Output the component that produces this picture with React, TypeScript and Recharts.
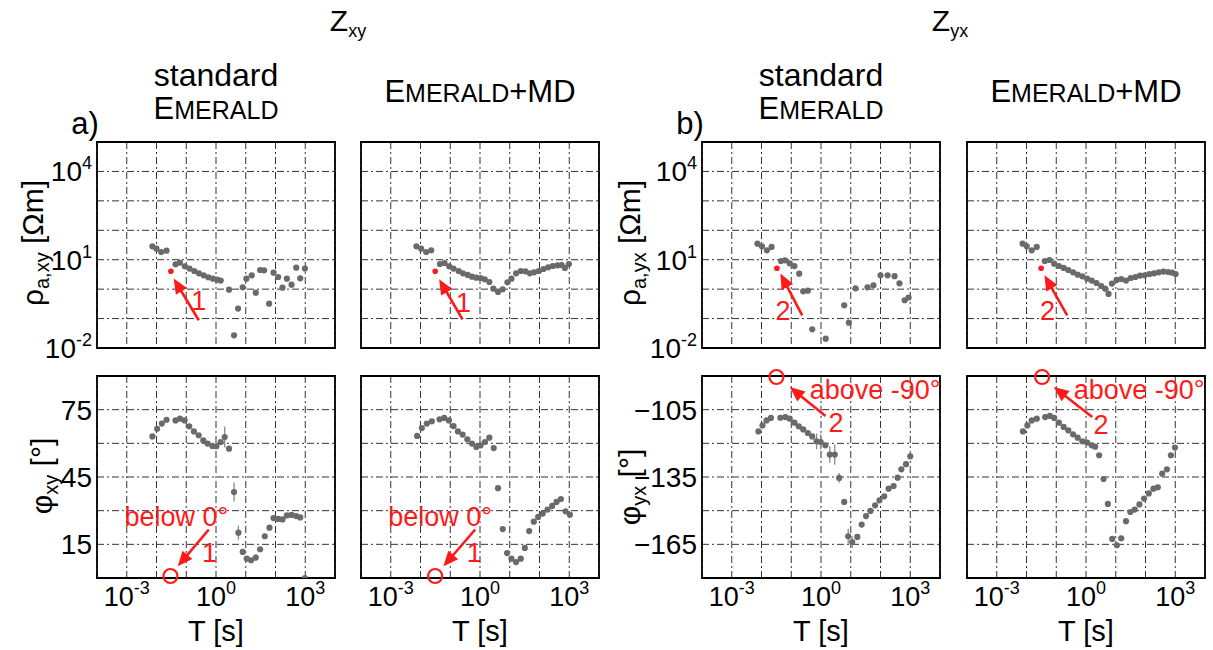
import React from 'react';
import {
  ScatterChart, Scatter, XAxis, YAxis, CartesianGrid,
  ReferenceArea, ReferenceLine, ReferenceDot, ErrorBar,
} from 'recharts';

const FONT = "'Liberation Sans', Arial, Helvetica, sans-serif";

// ---------- axes ----------
const xTicks = [1e-4, 1e-3, 1e-2, 1e-1, 1, 10, 100, 1000, 10000];
const xLabelExps = [-3, 0, 3];
const rhoTicks = [1e-2, 1e-1, 1, 10, 100, 1000, 1e4, 1e5];
const rhoLabelExps = [-2, 1, 4];
const phiXyTicks = [0, 15, 30, 45, 60, 75, 90];
const phiXyLabels = [15, 45, 75];
const phiYxTicks = [-180, -165, -150, -135, -120, -105, -90];
const phiYxLabels = [-165, -135, -105];

// ---------- data: rho_a,xy (standard EMERALD) ----------
const p1T = [0.0073, 0.010, 0.0144, 0.0217, 0.0436, 0.0612, 0.0902, 0.129, 0.186, 0.267, 0.384, 0.552, 0.793, 1.11, 1.44, 2.74, 4.04, 5.52, 7.93, 10.5, 15.9, 21.7, 30.4, 41.5, 61.2, 85.7, 123, 172, 241, 346, 498, 678, 975];
const p1R = [28.5, 23.8, 18.3, 20.3, 6.98, 7.94, 5.97, 4.98, 4.14, 3.45, 2.95, 2.52, 2.27, 2.1, 1.95, 0.96, 0.027, 0.218, 1.15, 2.27, 2.95, 0.76, 4.48, 4.37, 0.321, 3.64, 2.59, 1.12, 2.27, 1.42, 5.38, 2.33, 4.98];
const p1Red = { t: 0.0304, v: 4.04 };

// ---------- rho_a,xy (EMERALD+MD) ----------
const p2T = [0.0073, 0.0105, 0.0155, 0.0229, 0.0449, 0.0644, 0.0925, 0.129, 0.191, 0.267, 0.384, 0.537, 0.752, 1.05, 1.44, 2.06, 2.81, 4.04, 5.81, 8.34, 11.4, 16.3, 23.5, 33.7, 47.2, 66.1, 95.1, 136, 196, 281, 405, 552, 714, 975];
const p2R = [28.5, 23.8, 18.3, 20.8, 7.16, 7.74, 5.97, 4.98, 4.14, 3.45, 3.03, 2.66, 2.46, 2.39, 2.16, 1.75, 1.04, 0.80, 0.99, 1.71, 2.27, 3.45, 4.14, 4.04, 3.45, 3.73, 4.14, 4.84, 5.52, 6.12, 6.46, 6.62, 5.24, 7.16];
const p2Red = { t: 0.0312, v: 4.04 };

// ---------- rho_a,yx (standard EMERALD) ----------
const p3T = [0.0073, 0.0103, 0.0152, 0.0218, 0.0452, 0.0618, 0.0889, 0.128, 0.185, 0.252, 0.362, 0.508, 1.44, 6.03, 8.67, 14.5, 36.5, 58, 100, 173, 297, 434, 648, 880];
const p3R = [35.2, 28.5, 20.8, 27.1, 9.06, 9.55, 7.55, 6.12, 3.36, 0.843, 0.889, 0.0432, 0.0208, 0.282, 0.0728, 1.07, 1.15, 1.35, 2.95, 2.95, 2.75, 1.58, 0.42, 0.52];
const p3Red = { t: 0.033, v: 5.1 };

// ---------- rho_a,yx (EMERALD+MD) ----------
const p4T = [0.0074, 0.0102, 0.015, 0.0221, 0.0413, 0.0593, 0.0853, 0.123, 0.177, 0.254, 0.366, 0.525, 0.755, 1.09, 1.56, 2.25, 3.24, 4.42, 5.73, 7.41, 10.7, 15.3, 22.1, 31.8, 45.7, 65.6, 94.4, 136, 195, 281, 405, 581, 794, 1030];
const p4R = [35.2, 28.5, 20.8, 27.1, 9.06, 9.79, 7.35, 6.12, 5.24, 4.48, 3.73, 3.11, 2.73, 2.27, 1.95, 1.62, 1.28, 1.04, 0.686, 1.54, 2.05, 2.21, 1.95, 2.39, 2.59, 2.88, 2.95, 3.27, 3.45, 3.73, 3.94, 3.83, 3.64, 3.27];
const p4Red = { t: 0.031, v: 5.1 };

// ---------- phi_xy (standard EMERALD) ----------
const p5T = [0.0073, 0.0105, 0.0151, 0.0217, 0.0436, 0.0612, 0.0879, 0.126, 0.181, 0.261, 0.374, 0.524, 0.752, 1.03, 1.44, 1.96, 2.74, 4.04, 5.66, 7.93, 10.8, 15.1, 21.7, 30.4, 43.7, 62.8, 85.7, 123, 172, 241, 346, 498, 678, 975];
const p5P = [63.1, 66.5, 68.8, 70.5, 70.2, 71.0, 70.2, 67.6, 65.3, 63.6, 61.3, 59.9, 58.8, 58.7, 60.6, 62.8, 57.6, 38.3, 20.2, 11.6, 8.6, 7.9, 9.1, 12.8, 18.6, 22.4, 26.7, 26.3, 26.1, 27.9, 28.1, 27.6, 27.0, 0];
const p5E = [0, 0, 0, 0, 0, 0, 0, 0, 0, 0, 0, 0, 0, 0, 0, 4.7, 0, 4.2, 3.2, 0, 0, 0, 1.5, 0, 0, 0, 0, 0, 0, 0, 0, 0, 0, 0];

// ---------- phi_xy (EMERALD+MD) ----------
const p6T = [0.0077, 0.0111, 0.0163, 0.0241, 0.0436, 0.0628, 0.0902, 0.129, 0.181, 0.261, 0.374, 0.537, 0.752, 1.05, 1.47, 2.06, 2.89, 4.04, 5.81, 8.13, 11.4, 16.3, 23.5, 32.1, 44.9, 64.4, 90.2, 129, 186, 267, 374, 524, 752, 1050];
const p6P = [63.3, 66.8, 68.8, 69.8, 70.7, 71.3, 70.2, 67.7, 65.3, 63.9, 61.8, 59.9, 58.4, 59.1, 60.6, 62.5, 57.9, 40.0, 21.8, 11.1, 8.6, 7.1, 8.6, 13.4, 20.9, 25.1, 27.2, 28.7, 30.5, 32.1, 33.9, 35.2, 29.7, 28.2];

// ---------- phi_yx (standard EMERALD) ----------
const p7T = [0.0079, 0.0108, 0.0148, 0.0207, 0.043, 0.0634, 0.0889, 0.128, 0.179, 0.252, 0.362, 0.508, 0.713, 0.975, 1.40, 1.97, 2.90, 4.07, 6.03, 8.22, 11.2, 16.6, 23.3, 32.7, 45.8, 65.9, 92.5, 133, 187, 276, 377, 502, 720, 1000];
const p7P = [-114.7, -112.0, -109.8, -108.7, -108.6, -108.3, -109.0, -110.8, -112.4, -113.8, -115.4, -116.9, -119.1, -119.4, -120.9, -125.0, -125.0, -135.4, -146.1, -161.4, -164.0, -161.7, -156.2, -152.4, -150.1, -147.6, -145.4, -143.6, -140.2, -139.0, -135.3, -131.6, -129.3, -125.8];
const p7E = [0, 0, 0, 0, 0, 0, 0, 0, 0, 0, 0, 0, 3.5, 3.5, 0, 3.7, 4.5, 2.2, 0, 3.3, 2.6, 0, 0, 0, 0, 0, 0, 0, 0, 0, 0, 0, 0, 0];

// ---------- phi_yx (EMERALD+MD) ----------
const p8T = [0.0076, 0.0107, 0.015, 0.0221, 0.0424, 0.061, 0.0853, 0.123, 0.177, 0.254, 0.366, 0.525, 0.755, 1.09, 1.56, 2.03, 2.77, 3.88, 5.43, 7.62, 10.9, 15.3, 22.1, 30.9, 43.4, 62.4, 89.7, 129, 185, 260, 364, 524, 716, 977];
const p8P = [-114.7, -112.0, -109.8, -109.0, -108.3, -107.8, -108.7, -110.8, -112.7, -114.2, -116.0, -117.5, -119.1, -119.7, -120.9, -121.5, -125.3, -135.9, -147.0, -162.6, -165.4, -162.3, -154.7, -150.6, -149.5, -147.2, -144.6, -142.3, -140.2, -139.6, -133.5, -131.6, -125.3, -121.9];

// ---------- annotations (data coordinates) ----------
type Txt = { at: [number, number]; s: string; anchor: 'start' | 'middle' };
type Ann = { tail: [number, number]; head: [number, number]; circle?: [number, number]; texts: Txt[] };
const ann1: Ann = { tail: [0.264, 0.0875], head: [0.0379, 2.28], texts: [{ at: [0.264, 0.191], s: '1', anchor: 'middle' }] };
const ann2: Ann = { tail: [0.258, 0.0946], head: [0.0423, 2.16], texts: [{ at: [0.278, 0.168], s: '1', anchor: 'middle' }] };
const ann3: Ann = { tail: [0.233, 0.129], head: [0.0432, 3.37], texts: [{ at: [0.0526, 0.0875], s: '2', anchor: 'middle' }] };
const ann4: Ann = { tail: [0.233, 0.129], head: [0.0401, 2.96], texts: [{ at: [0.0506, 0.0875], s: '2', anchor: 'middle' }] };
const ann5: Ann = { tail: [0.573, 21.6], head: [0.0518, 5.2], circle: [0.0294, 0.9], texts: [{ at: [0.0468, 23.0], s: 'below 0°', anchor: 'middle' }, { at: [0.604, 7.1], s: '1', anchor: 'middle' }] };
const ann6: Ann = { tail: [0.689, 21.6], head: [0.059, 5.2], circle: [0.031, 0.9], texts: [{ at: [0.0457, 23.0], s: 'below 0°', anchor: 'middle' }, { at: [0.638, 7.1], s: '1', anchor: 'middle' }] };
const ann7: Ann = { tail: [1.42, -107.8], head: [0.0891, -94.9], circle: [0.0318, -90.45], texts: [{ at: [0.42, -100.1], s: 'above -90°', anchor: 'start' }, { at: [3.2, -114.9], s: '2', anchor: 'middle' }] };
const ann8: Ann = { tail: [1.62, -108.3], head: [0.0824, -94.9], circle: [0.0335, -90.45], texts: [{ at: [0.388, -100.1], s: 'above -90°', anchor: 'start' }, { at: [3.2, -115.7], s: '2', anchor: 'middle' }] };

// ---------- helpers ----------
const RED = '#ff1a1a';
const zip = (t: number[], v: number[], e?: number[]) => t.map((x, i) => ({ t: x, v: v[i], e: e ? e[i] : 0 }));

const grayDot = (p: any) => <circle cx={p.cx} cy={p.cy} r={3.1} fill="#6a6a6a" />;
const redDot = (p: any) => <circle cx={p.cx} cy={p.cy} r={2.8} fill={RED} />;

const arrowShape = (p: any) => {
  const { x1, y1, x2, y2 } = p;
  const dx = x2 - x1, dy = y2 - y1;
  const L = Math.hypot(dx, dy) || 1;
  const ux = dx / L, uy = dy / L;
  const hl = 15, hw = 6.5;
  const bx = x2 - ux * hl, by = y2 - uy * hl;
  return (
    <g>
      <line x1={x1} y1={y1} x2={bx + ux * 2} y2={by + uy * 2} stroke={RED} strokeWidth={2.6} />
      <polygon points={`${x2},${y2} ${bx - uy * hw},${by + ux * hw} ${bx + uy * hw},${by - ux * hw}`} fill={RED} />
    </g>
  );
};

const textShape = (s: string, anchor: string) => (p: any) => (
  <text x={p.cx} y={p.cy} textAnchor={anchor} fill={RED} fontSize={27} fontFamily={FONT}>{s}</text>
);

const Empty = () => <g />;

const XTick = (p: any) => {
  const e = Math.round(Math.log10(p.payload.value));
  if (!xLabelExps.includes(e)) return <g />;
  return (
    <text x={p.x} y={p.y + 26} textAnchor="middle" fontSize={27} fontFamily={FONT} fill="#000">
      10<tspan fontSize={18} dy={-12}>{String(e)}</tspan>
    </text>
  );
};

const RhoTick = (p: any) => {
  const e = Math.round(Math.log10(p.payload.value));
  if (!rhoLabelExps.includes(e)) return <g />;
  return (
    <text x={p.x - 3} y={p.y + 10} textAnchor="end" fontSize={28} fontFamily={FONT} fill="#000">
      10<tspan fontSize={18} dy={-12}>{String(e)}</tspan>
    </text>
  );
};

const phiTick = (labels: number[]) => (p: any) => {
  const v = Math.round(p.payload.value);
  if (!labels.includes(v)) return <g />;
  return (
    <text x={p.x - 3} y={p.y + 10} textAnchor="end" fontSize={28} fontFamily={FONT} fill="#000">
      {v < 0 ? '\u2212' + Math.abs(v) : String(v)}
    </text>
  );
};

type PanelProps = {
  left: number; top: number; h: number;
  log: boolean; yDomain: [number, number]; yTicks: number[];
  yTick: any; showX: boolean;
  pts: { t: number; v: number; e: number }[];
  hasErr?: boolean;
  red?: { t: number; v: number };
  ann: Ann;
};

const W = 238, ML = 70, MR = 45, MT = 14, MB = 60;

function Panel(p: PanelProps) {
  const a = p.ann;
  return (
    <div style={{ position: 'absolute', left: p.left - ML, top: p.top - MT }}>
      <ScatterChart width={W + ML + MR} height={p.h + MT + MB}
        margin={{ top: MT, right: MR, bottom: MB - 50, left: ML - 60 }}>
        <CartesianGrid stroke="#333" strokeDasharray="7 3 2 3" strokeWidth={1} />
        <XAxis type="number" dataKey="t" scale="log" domain={[1e-4, 1e4]} ticks={xTicks} interval={0}
          allowDataOverflow axisLine={false} tickLine={false} tickSize={0} height={50}
          tick={p.showX ? XTick : Empty} />
        <YAxis type="number" dataKey="v" scale={p.log ? 'log' : 'linear'} domain={p.yDomain} ticks={p.yTicks}
          interval={0} allowDataOverflow axisLine={false} tickLine={false} tickSize={0} width={60}
          tick={p.yTick} />
        <ReferenceArea x1={1e-4} x2={1e4} y1={p.yDomain[0]} y2={p.yDomain[1]} fill="none" fillOpacity={0}
          stroke="#000" strokeWidth={1.8} ifOverflow="visible" />
        <Scatter data={p.pts} isAnimationActive={false} shape={grayDot}>
          {p.hasErr ? <ErrorBar dataKey="e" direction="y" width={0} stroke="#8a8a8a" strokeWidth={1.3} isAnimationActive={false} /> : null}
        </Scatter>
        {p.red ? <Scatter data={[p.red]} isAnimationActive={false} shape={redDot} /> : null}
        <ReferenceLine segment={[{ x: a.tail[0], y: a.tail[1] }, { x: a.head[0], y: a.head[1] }]}
          shape={arrowShape} ifOverflow="visible" />
        {a.circle ? (
          <ReferenceDot x={a.circle[0]} y={a.circle[1]} r={7} fill="none" stroke={RED} strokeWidth={2.2}
            ifOverflow="visible" />
        ) : null}
        {a.texts.map((t, i) => (
          <ReferenceDot key={i} x={t.at[0]} y={t.at[1]} r={1} ifOverflow="visible" shape={textShape(t.s, t.anchor)} />
        ))}
      </ScatterChart>
    </div>
  );
}

const Emerald = ({ x, y, suffix }: { x: number; y: number; suffix?: string }) => (
  <text x={x} y={y} textAnchor="middle" fontSize={31} fontFamily={FONT} fill="#000">
    E<tspan fontSize={25}>MERALD</tspan>{suffix ? <tspan fontSize={31}>{suffix}</tspan> : null}
  </text>
);

export default function App() {
  const L = [97, 361, 702, 967];
  const TOP1 = 142, H1 = 206, TOP2 = 376, H2 = 202;
  const cx = L.map((l) => l + W / 2);
  return (
    <div style={{ position: 'absolute', left: 0, top: 0, width: 1213, height: 650, background: '#fff', overflow: 'hidden' }}>
      <Panel left={L[0]} top={TOP1} h={H1} log yDomain={[1e-2, 1e5]} yTicks={rhoTicks} yTick={RhoTick}
        showX={false} pts={zip(p1T, p1R)} red={p1Red} ann={ann1} />
      <Panel left={L[1]} top={TOP1} h={H1} log yDomain={[1e-2, 1e5]} yTicks={rhoTicks} yTick={Empty}
        showX={false} pts={zip(p2T, p2R)} red={p2Red} ann={ann2} />
      <Panel left={L[2]} top={TOP1} h={H1} log yDomain={[1e-2, 1e5]} yTicks={rhoTicks} yTick={RhoTick}
        showX={false} pts={zip(p3T, p3R)} red={p3Red} ann={ann3} />
      <Panel left={L[3]} top={TOP1} h={H1} log yDomain={[1e-2, 1e5]} yTicks={rhoTicks} yTick={Empty}
        showX={false} pts={zip(p4T, p4R)} red={p4Red} ann={ann4} />

      <Panel left={L[0]} top={TOP2} h={H2} log={false} yDomain={[0, 90]} yTicks={phiXyTicks} yTick={phiTick(phiXyLabels)}
        showX pts={zip(p5T, p5P, p5E)} hasErr ann={ann5} />
      <Panel left={L[1]} top={TOP2} h={H2} log={false} yDomain={[0, 90]} yTicks={phiXyTicks} yTick={Empty}
        showX pts={zip(p6T, p6P)} ann={ann6} />
      <Panel left={L[2]} top={TOP2} h={H2} log={false} yDomain={[-180, -90]} yTicks={phiYxTicks} yTick={phiTick(phiYxLabels)}
        showX pts={zip(p7T, p7P, p7E)} hasErr ann={ann7} />
      <Panel left={L[3]} top={TOP2} h={H2} log={false} yDomain={[-180, -90]} yTicks={phiYxTicks} yTick={Empty}
        showX pts={zip(p8T, p8P)} ann={ann8} />

      <svg width={1213} height={650} style={{ position: 'absolute', left: 0, top: 0, pointerEvents: 'none' }}>
        <g fontFamily={FONT} fill="#000">
          <text x={348} y={31} textAnchor="middle" fontSize={30}>Z<tspan fontSize={18} dy={6}>xy</tspan></text>
          <text x={950} y={31} textAnchor="middle" fontSize={30}>Z<tspan fontSize={18} dy={6}>yx</tspan></text>

          <text x={cx[0]} y={86} textAnchor="middle" fontSize={32}>standard</text>
          <Emerald x={cx[0]} y={119} />
          <Emerald x={cx[1]} y={102} suffix="+MD" />
          <text x={cx[2]} y={86} textAnchor="middle" fontSize={32}>standard</text>
          <Emerald x={cx[2]} y={119} />
          <Emerald x={cx[3]} y={102} suffix="+MD" />

          <text x={85} y={134} textAnchor="middle" fontSize={31}>a)</text>
          <text x={690} y={134} textAnchor="middle" fontSize={31}>b)</text>

          {cx.map((x, i) => (
            <text key={i} x={x} y={641} textAnchor="middle" fontSize={29}>T [s]</text>
          ))}

          <text transform="translate(43,243) rotate(-90)" textAnchor="middle" fontSize={30}>
            ρ<tspan fontSize={20} dy={6}>a,xy</tspan><tspan fontSize={30} dy={-6}> [Ωm]</tspan>
          </text>
          <text transform="translate(640,243) rotate(-90)" textAnchor="middle" fontSize={30}>
            ρ<tspan fontSize={20} dy={6}>a,yx</tspan><tspan fontSize={30} dy={-6}> [Ωm]</tspan>
          </text>
          <text transform="translate(52,476) rotate(-90)" textAnchor="middle" fontSize={30}>
            φ<tspan fontSize={20} dy={6}>xy</tspan><tspan fontSize={30} dy={-6}> [°]</tspan>
          </text>
          <text transform="translate(640,487) rotate(-90)" textAnchor="middle" fontSize={30}>
            φ<tspan fontSize={20} dy={6}>yx</tspan><tspan fontSize={30} dy={-6}> [°]</tspan>
          </text>
        </g>
      </svg>
    </div>
  );
}
